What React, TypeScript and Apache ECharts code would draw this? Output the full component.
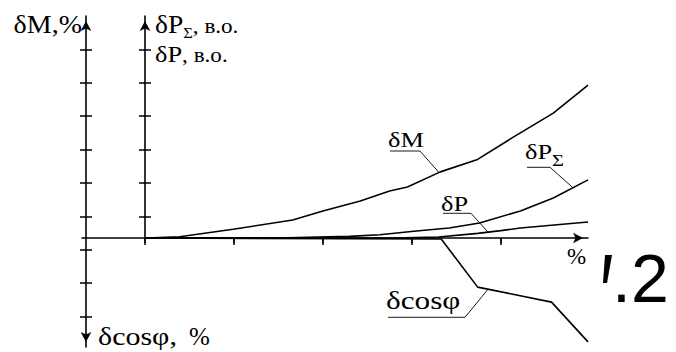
import { useEffect, useRef } from 'react';
import * as echarts from 'echarts';

// Axis ticks (data units: x — one division per tick, y — one division per tick)
const xTicks = [0, 1, 2, 3, 4];
const leftTicks = [-2.35, -1.35, -0.35, 0.65, 1.65, 2.65, 3.65, 4.65, 5.65];
const rightTicks = [0.65, 1.65, 2.65, 3.65, 4.65, 5.65];

const xMin = -0.708;
const xMax = 4.98;
const yMin = -3.263;
const yMax = 6.647;

// δM
const dMx = [0, 0.39, 0.99, 1.66, 2.0, 2.42, 2.75, 2.95, 3.32, 3.73, 4.14, 4.59, 4.98];
const dMy = [0, 0.04, 0.26, 0.54, 0.81, 1.11, 1.41, 1.53, 1.98, 2.34, 3.02, 3.74, 4.58];
// δPΣ
const dPsx = [0, 1.6, 2.3, 2.64, 3.05, 3.42, 3.76, 4.22, 4.59, 4.98];
const dPsy = [0, 0.01, 0.05, 0.1, 0.21, 0.3, 0.45, 0.81, 1.2, 1.74];
// δP
const dPx = [0, 2.8, 3.3, 3.74, 4.0, 4.22, 4.98];
const dPy = [0, 0, 0.03, 0.14, 0.22, 0.3, 0.48];
// δcosφ
const dCx = [0, 3.33, 3.74, 4.57, 4.98];
const dCy = [0, -0.03, -1.47, -1.92, -3.11];

// Callouts: underline from x0 to x1 at height y, leader to the curve point (cx, cy)
const calloutNames = ['δM', 'δP', 'δP', 'δcosφ'];
const calloutSubs = ['', 'Σ', '', ''];
const calloutX0 = [2.754, 4.294, 3.35, 2.732];
const calloutX1 = [3.091, 4.553, 3.665, 3.597];
const calloutY = [2.605, 2.117, 0.74, -2.374];
const calloutCx = [3.305, 4.811, 3.856, 3.856];
const calloutCy = [1.962, 1.506, 0.176, -1.533];

const serif = '"Liberation Serif", "Times New Roman", serif';
const sans = '"Liberation Sans", Arial, sans-serif';
const SERIF_MID = 0.3375;

const zip = (xs: number[], ys: number[]) => xs.map((x, i) => [x, ys[i]]);

const measureCtx = typeof document !== 'undefined' ? document.createElement('canvas').getContext('2d') : null;
function textWidth(text: string, size: number, family = serif) {
  if (!measureCtx) return text.length * size * 0.5;
  measureCtx.font = `${size}px ${family}`;
  return measureCtx.measureText(text).width;
}

function txt(text: string, x: number, baseline: number, size: number, align = 'left', family = serif) {
  return {
    type: 'text',
    x,
    y: baseline - SERIF_MID * size,
    style: { text, fontSize: size, fontFamily: family, fill: '#000', textAlign: align, verticalAlign: 'middle' },
  };
}

const black = '#000';
const curveStyle = { color: black, width: 1.6 };

function curve(name: string, xs: number[], ys: number[]) {
  return {
    type: 'line',
    name,
    xAxisIndex: 0,
    yAxisIndex: 0,
    data: zip(xs, ys),
    symbol: 'none',
    lineStyle: curveStyle,
    itemStyle: { color: black },
    z: 3,
  };
}

function App() {
  const ref = useRef<HTMLDivElement>(null);

  useEffect(() => {
    if (!ref.current) return;
    const chart = echarts.init(ref.current, null, { renderer: 'svg' });

    const calloutSize = [22, 22, 22, 25];
    const calloutScale = [1.2, 1.2, 1.2, 1.25];
    const calloutGap = [4, 9, 3, 8];

    const wP25 = textWidth('δP', 25);
    const wSig = textWidth('Σ', 15);
    const wP24 = textWidth('δP', 24);

    const axisLineBase = { color: black, width: 1.6 };
    const tickStyle = { color: black, width: 1.5 };

    const option: any = {
      animation: false,
      backgroundColor: '#fff',
      grid: [
        { left: 82, right: 88, top: 16, bottom: 5 },
        { left: 145, right: 88, top: 16, bottom: 114 },
      ],
      xAxis: [
        {
          gridIndex: 0,
          type: 'value',
          min: xMin,
          max: xMax,
          axisLine: {
            show: true,
            onZero: true,
            onZeroAxisIndex: 0,
            symbol: ['none', 'arrow'],
            symbolSize: [8, 10],
            symbolOffset: [0, -5],
            lineStyle: axisLineBase,
          },
          axisTick: { show: true, customValues: xTicks, length: 7, lineStyle: tickStyle },
          axisLabel: { show: false },
          splitLine: { show: false },
        },
        {
          gridIndex: 0,
          type: 'value',
          min: xMin,
          max: xMax,
          axisLine: { show: true, onZero: true, onZeroAxisIndex: 0, lineStyle: { color: black, width: 1, opacity: 0 } },
          axisTick: { show: true, inside: true, customValues: xTicks, length: 5, lineStyle: tickStyle },
          axisLabel: { show: false },
          splitLine: { show: false },
        },
        { gridIndex: 1, type: 'value', min: 0, max: 1, show: false },
      ],
      yAxis: [
        {
          gridIndex: 0,
          type: 'value',
          min: yMin,
          max: yMax,
          position: 'left',
          offset: -4,
          axisLine: {
            show: true,
            onZero: false,
            symbol: ['arrow', 'arrow'],
            symbolSize: [8, 10],
            symbolOffset: [5, -5],
            lineStyle: axisLineBase,
          },
          axisTick: { show: true, customValues: leftTicks, length: 6, lineStyle: tickStyle },
          axisLabel: { show: false },
          splitLine: { show: false },
        },
        {
          gridIndex: 0,
          type: 'value',
          min: yMin,
          max: yMax,
          position: 'left',
          offset: -4,
          axisLine: { show: true, onZero: false, lineStyle: { color: black, width: 1, opacity: 0 } },
          axisTick: { show: true, inside: true, customValues: leftTicks, length: 6, lineStyle: tickStyle },
          axisLabel: { show: false },
          splitLine: { show: false },
        },
        {
          gridIndex: 1,
          type: 'value',
          min: 0,
          max: yMax,
          position: 'left',
          axisLine: {
            show: true,
            onZero: false,
            symbol: ['none', 'arrow'],
            symbolSize: [8, 10],
            symbolOffset: [0, -5],
            lineStyle: axisLineBase,
          },
          axisTick: { show: true, customValues: rightTicks, length: 6, lineStyle: tickStyle },
          axisLabel: { show: false },
          splitLine: { show: false },
        },
        {
          gridIndex: 1,
          type: 'value',
          min: 0,
          max: yMax,
          position: 'left',
          axisLine: { show: true, onZero: false, lineStyle: { color: black, width: 1, opacity: 0 } },
          axisTick: { show: true, inside: true, customValues: rightTicks, length: 6, lineStyle: tickStyle },
          axisLabel: { show: false },
          splitLine: { show: false },
        },
      ],
      series: [
        curve('δM', dMx, dMy),
        curve('δPΣ', dPsx, dPsy),
        curve('δP', dPx, dPy),
        curve('δcosφ', dCx, dCy),
        {
          type: 'custom',
          name: 'callouts',
          xAxisIndex: 0,
          yAxisIndex: 0,
          z: 4,
          data: calloutNames.map((_, i) => [calloutX0[i], calloutX1[i], calloutY[i], calloutCx[i], calloutCy[i]]),
          renderItem: (params: any, api: any) => {
            const i = params.dataIndex;
            const a = api.coord([api.value(0), api.value(2)]);
            const b = api.coord([api.value(1), api.value(2)]);
            const c = api.coord([api.value(3), api.value(4)]);
            const name = calloutNames[i];
            const sub = calloutSubs[i];
            const size = calloutSize[i];
            const baseline = -calloutGap[i];
            const children: any[] = [txt(name, 0, baseline, size)];
            if (sub) {
              children.push(txt(sub, textWidth(name, size), baseline + 8, 17));
            }
            return {
              type: 'group',
              children: [
                {
                  type: 'polyline',
                  shape: { points: [a, b, c] },
                  style: { stroke: black, lineWidth: 0.9, fill: 'none' },
                },
                {
                  type: 'group',
                  x: a[0] - 2,
                  y: a[1],
                  scaleX: calloutScale[i],
                  children,
                },
              ],
            };
          },
        },
      ],
      graphic: [
        // δM, % — left axis title
        { type: 'group', x: 82, y: 0, scaleX: 1.12, children: [txt('δM,%', 0, 33, 25, 'right')] },
        // δPΣ, в.о. / δP, в.о. — inner axis titles
        {
          type: 'group',
          x: 155,
          y: 0,
          scaleX: 1.1,
          children: [
            txt('δP', 0, 33, 25),
            txt('Σ', wP25, 38, 15),
            txt(', в.о.', wP25 + wSig, 33, 21),
            txt('δP', 0, 62, 24),
            txt(', в.о.', wP24, 62, 21),
          ],
        },
        // δcosφ, % — lower axis title
        { type: 'group', x: 98, y: 0, scaleX: 1.2, children: [txt('δcosφ,', 0, 345, 25)] },
        txt('%', 189, 345, 25),
        // x axis unit
        txt('%', 567, 264, 23),
        // figure number fragment
        {
          type: 'polygon',
          shape: { points: [[605, 255], [612, 255], [607, 283], [603, 283]] },
          style: { fill: black },
        },
        {
          type: 'text',
          x: 612,
          y: 277.5,
          style: { text: '.2', fontSize: 68, fontFamily: sans, fill: black, textAlign: 'left', verticalAlign: 'middle' },
        },
      ],
    };

    chart.setOption(option);
    return () => chart.dispose();
  }, []);

  return (
    <div
      ref={ref}
      style={{ position: 'absolute', left: 0, top: 0, width: 676, height: 352, background: '#fff' }}
    />
  );
}

export default App;
